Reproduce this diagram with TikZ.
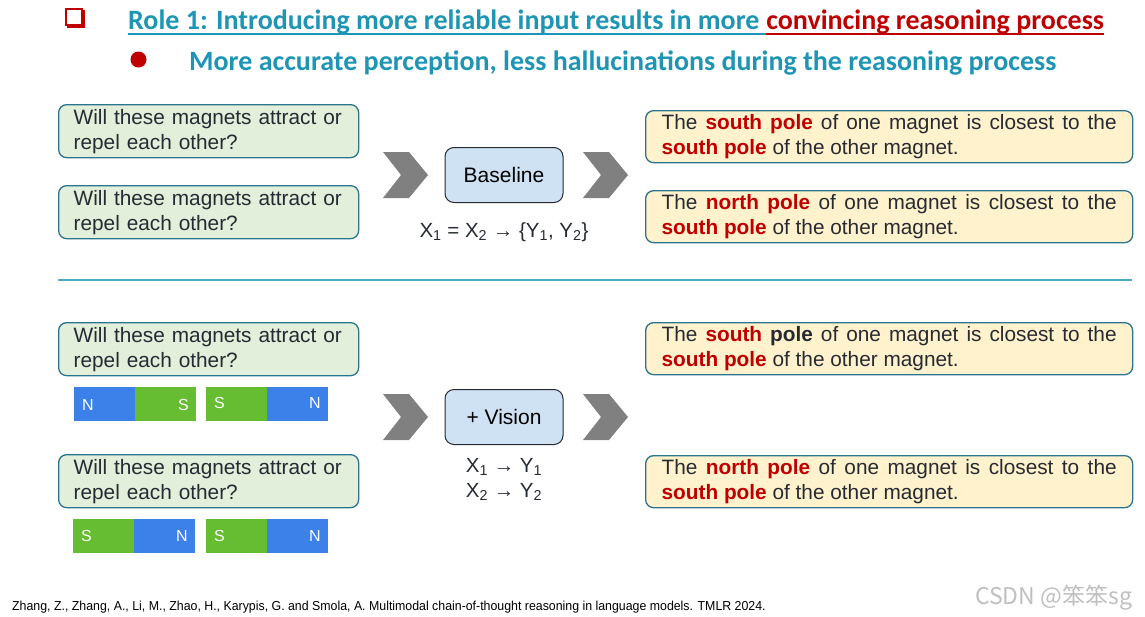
\documentclass[tikz,border=0pt]{standalone}
\usepackage{fontspec}
\setmainfont{Liberation Sans}
\newfontfamily\titlefont{Carlito}
\newfontfamily\cjkfont{Noto Sans CJK SC}
\usetikzlibrary{positioning}

\definecolor{titleblue}{HTML}{1E95B5}
\definecolor{titlered}{HTML}{C00000}
\definecolor{boxgreen}{HTML}{E2EFDA}
\definecolor{boxyellow}{HTML}{FFF2CC}
\definecolor{boxblue}{HTML}{CFE2F3}
\definecolor{boxborder}{HTML}{2B7490}
\definecolor{magblue}{HTML}{3C80EA}
\definecolor{maggreen}{HTML}{67BD31}
\definecolor{chevgray}{HTML}{808080}
\definecolor{textgray}{HTML}{262B33}
\definecolor{linecyan}{HTML}{4BACC6}

\newcommand{\redpole}[1]{\textbf{\color{titlered}#1}}

\tikzset{
  boxtext/.style={font=\fontsize{20.8}{25}\selectfont, text=textgray},
  question/.style={boxtext, draw=boxborder, line width=1.3, fill=boxgreen, rounded corners=8,
    anchor=north west, minimum height=53, text width=270, inner xsep=15, align=left},
  answer/.style={boxtext, draw=boxborder, line width=1.3, fill=boxyellow, rounded corners=8,
    anchor=north west, minimum height=52, text width=455, inner xsep=16, align=justify},
  model/.style={draw=textgray, line width=1, fill=boxblue, rounded corners=9,
    minimum width=118, minimum height=55, font=\fontsize{21}{24}\selectfont, text=black},
  relation/.style={font=\fontsize{20.5}{25}\selectfont, text=textgray, align=center},
  chevron/.pic={\fill[chevgray] (-22,-23) -- (4,-23) -- (23,0) -- (4,23) -- (-22,23) -- (-4,0) -- cycle;},
  magnet/.style={minimum width=61, minimum height=34, inner sep=0, outer sep=0, anchor=north west},
  polelabel/.style={text=white, font=\fontsize{16}{16}\selectfont, inner sep=0},
  heading/.style={anchor=base west, inner sep=0, font=\titlefont\bfseries\fontsize{28}{32}\selectfont}
}

\begin{document}
\begin{tikzpicture}[x=1pt,y=-1pt]
\useasboundingbox (0,0) rectangle (1145,616);

% title lines
\draw [titlered, line width=2] (66,9) rectangle (82,25);
\fill [titlered] (82,10) rectangle (85,28);
\fill [titlered] (67,25) rectangle (85,28);
\fill [titlered] (138.5,59.5) circle (8);
\node [heading, text=titleblue] (role1) at (128,29)
  {Role 1: Introducing more reliable input results in more};
\node [heading, text=titlered] (role1b) at ([xshift=6.5pt]role1.base east)
  {convincing reasoning process};
\draw [titleblue, line width=1.5] ([yshift=-5pt]role1.base west) -- ([yshift=-5pt]role1b.base west);
\draw [titlered, line width=1.5] ([yshift=-5pt]role1b.base west) -- ([yshift=-5pt]role1b.base east);
\node [heading, text=titleblue] (point1) at (189,70)
  {More accurate perception, less hallucinations during the reasoning process};

% baseline
\node [question] (q1) at (58,104) {Will these magnets attract or repel each other?};
\node [question] (q2) at (58,185) {Will these magnets attract or repel each other?};
\pic at (405,175) {chevron};
\node [model] (base) at (504,175) {Baseline};
\pic at (605,175) {chevron};
\node [relation, below=16pt of base] (rel1) {X\textsubscript{1} = X\textsubscript{2} → \{Y\textsubscript{1}, Y\textsubscript{2}\}};
\node [answer] (a1) at (645,110) {The \redpole{south pole} of one magnet is closest to the\linebreak \redpole{south pole} of the other magnet.};
\node [answer] (a2) at (645,190) {The \redpole{north pole} of one magnet is closest to the\linebreak \redpole{south pole} of the other magnet.};

\draw [linecyan, line width=1.5] (58,280) -- (1132,280);

% + vision
\node [question] (q3) at (58,322) {Will these magnets attract or repel each other?};
\node [magnet, fill=magblue] (m1a) at (74,387) {};
\node [magnet, fill=maggreen, right=0pt of m1a] (m1b) {};
\node [magnet, fill=maggreen] (m2a) at (206,387) {};
\node [magnet, fill=magblue, right=0pt of m2a] (m2b) {};
\node [question] (q4) at (58,454) {Will these magnets attract or repel each other?};
\node [magnet, fill=maggreen] (m3a) at (73,519) {};
\node [magnet, fill=magblue, right=0pt of m3a] (m3b) {};
\node [magnet, fill=maggreen] (m4a) at (206,519) {};
\node [magnet, fill=magblue, right=0pt of m4a] (m4b) {};
\node [polelabel, anchor=west] (p1a) at ([xshift=8pt,yshift=-1pt]m1a.west) {N};
\node [polelabel, anchor=east] (p1b) at ([xshift=-7pt,yshift=-1pt]m1b.east) {S};
\node [polelabel, anchor=west] (p2a) at ([xshift=8pt,yshift=1pt]m2a.west) {S};
\node [polelabel, anchor=east] (p2b) at ([xshift=-7pt,yshift=1pt]m2b.east) {N};
\node [polelabel, anchor=west] (p3a) at ([xshift=8pt]m3a.west) {S};
\node [polelabel, anchor=east] (p3b) at ([xshift=-7pt]m3b.east) {N};
\node [polelabel, anchor=west] (p4a) at ([xshift=8pt]m4a.west) {S};
\node [polelabel, anchor=east] (p4b) at ([xshift=-7pt]m4b.east) {N};
\pic at (405,417) {chevron};
\node [model] (vision) at (504,417) {+ Vision};
\pic at (605,417) {chevron};
\node [relation, below=10pt of vision] (rel2) {X\textsubscript{1} → Y\textsubscript{1}\\X\textsubscript{2} → Y\textsubscript{2}};
\node [answer] (a3) at (645,322) {The \redpole{south} \textbf{pole} of one magnet is closest to the\linebreak \redpole{south pole} of the other magnet.};
\node [answer] (a4) at (645,455) {The \redpole{north pole} of one magnet is closest to the\linebreak \redpole{south pole} of the other magnet.};

% reference and mark
\node [anchor=base west, inner sep=0, text=black, font=\fontsize{13}{13}\selectfont] (cite) at (12,610)
  {\scalebox{0.95}[1]{Zhang, Z., Zhang, A., Li, M., Zhao, H., Karypis, G. and Smola, A. Multimodal chain-of-thought reasoning in language models. TMLR 2024.}};
\node [anchor=base west, inner sep=0, text=black!25, font=\cjkfont\fontsize{23}{23}\selectfont] (mark) at (975,604) {CSDN @笨笨sg};
\end{tikzpicture}
\end{document}
